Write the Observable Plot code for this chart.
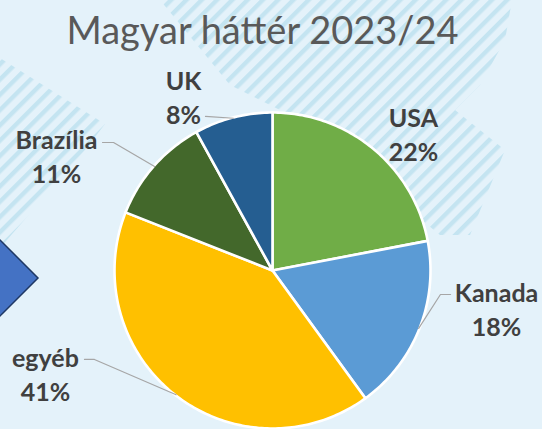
<!DOCTYPE html>
<html>
<head>
<meta charset="utf-8">
<script src="https://cdn.jsdelivr.net/npm/d3@7"></script>
<script src="https://cdn.jsdelivr.net/npm/@observablehq/plot@0.6"></script>
<style>
  html, body { margin: 0; padding: 0; background: #E4F2FA; }
  #wrap { position: relative; width: 542px; height: 429px; overflow: hidden; background: #E4F2FA; }
  #deco, #chart { position: absolute; left: 0; top: 0; }
  #chart svg { background: transparent; }
</style>
</head>
<body>
<div id="wrap">
  <svg id="deco" width="542" height="429">
    <defs>
      <pattern id="stripes" patternUnits="userSpaceOnUse" width="10.8" height="10.8" patternTransform="rotate(45)">
        <rect x="0" y="0" width="4.4" height="10.8" fill="#C4E4F1"></rect>
      </pattern>
    </defs>
    <polygon points="160,0 512,0 505,40 480,85 455,110 505,150 470,235 440,235 300,120 230,85" fill="url(#stripes)"></polygon>
    <polygon points="0,58 105,124 85,150 0,248" fill="url(#stripes)"></polygon>
    <polygon points="-42,278 -2,238 38,278 -2,318" fill="#4472C4" stroke="#1F3864" stroke-width="1.5"></polygon>
  </svg>
  <div id="chart"></div>
</div>
<script>
// ---- data ----
const title = "Magyar háttér 2023/24";
const categories = ["USA", "Kanada", "egyéb", "Brazília", "UK"];
const shares = [22, 18, 41, 11, 8];
const colors = ["#70AD47", "#5B9BD5", "#FFC000", "#43682B", "#255E91"];

// ---- layout (radius units, centre of pie = 0,0) ----
const cx = 272, cy = 270, R = 158;
const labelFont = 25, titleFont = 38;
const labelBase = { // x centre, first-line baseline
  "USA": [0.892, 0.949],
  "Kanada": [1.418, -0.158],
  "egyéb": [-1.437, -0.570],
  "Brazília": [-1.367, 0.810],
  "UK": [-0.563, 1.184]
};
const leaderStart = {
  "UK": [[-0.424, 0.975]],
  "Brazília": [[-1.076, 0.810], [-1.006, 0.810]],
  "egyéb": [[-1.190, -0.563], [-1.127, -0.563]],
  "Kanada": [[1.127, -0.152], [1.063, -0.152]]
};

const rows = categories.map((name, i) => ({name, value: shares[i]}));
const arcs = d3.pie().sort(null).value(d => d.value).startAngle(0).endAngle(2 * Math.PI)(rows);

// slice outlines
const slicePts = [];
arcs.forEach(a => {
  const name = a.data.name;
  slicePts.push({name, x: 0, y: 0});
  const n = Math.max(2, Math.ceil((a.endAngle - a.startAngle) / (Math.PI / 180)));
  for (let k = 0; k <= n; k++) {
    const t = a.startAngle + (a.endAngle - a.startAngle) * k / n;
    slicePts.push({name, x: Math.sin(t), y: Math.cos(t)});
  }
  slicePts.push({name, x: 0, y: 0});
});

// leader lines
const leaderPts = [];
arcs.forEach(a => {
  const name = a.data.name;
  if (!leaderStart[name]) return;
  leaderStart[name].forEach(([x, y]) => leaderPts.push({name, x, y}));
  const mid = (a.startAngle + a.endAngle) / 2;
  leaderPts.push({name, x: Math.sin(mid) * 0.995, y: Math.cos(mid) * 0.995});
});

// labels
const labels = arcs.map(a => {
  const name = a.data.name;
  const [x, yb] = labelBase[name];
  return {name, x, y: yb + 0.71 * labelFont / R, text: name + "\n" + a.data.value + "%"};
});

const W = 542, H = 429;
const chart = Plot.plot({
  width: W, height: H, margin: 0,
  style: {background: "transparent", overflow: "visible"},
  x: {domain: [-1, 1], range: [cx - R, cx + R], axis: null},
  y: {domain: [-1, 1], range: [cy + R, cy - R], axis: null},
  color: {domain: categories, range: colors},
  marks: [
    Plot.line(slicePts, {x: "x", y: "y", z: "name", fill: "name", stroke: "white", strokeWidth: 2.6, strokeLinejoin: "round", curve: "linear"}),
    Plot.line(leaderPts, {x: "x", y: "y", z: "name", stroke: "#A6A6A6", strokeWidth: 1.2}),
    Plot.text(labels, {x: "x", y: "y", text: "text", lineAnchor: "top", textAnchor: "middle", lineHeight: 34 / labelFont,
      fontSize: labelFont, fontWeight: "bold", fontFamily: "Lato, 'Open Sans', sans-serif", fill: "#404040"}),
    Plot.text([title], {x: () => (262 - cx) / R, y: () => (270 - 43 + 0.71 * titleFont) / R, text: d => d, lineAnchor: "top", textAnchor: "middle",
      fontSize: titleFont, fontWeight: 400, fontFamily: "Lato, 'Open Sans', sans-serif", fill: "#595959"})
  ]
});
document.getElementById("chart").appendChild(chart);
</script>
</body>
</html>
